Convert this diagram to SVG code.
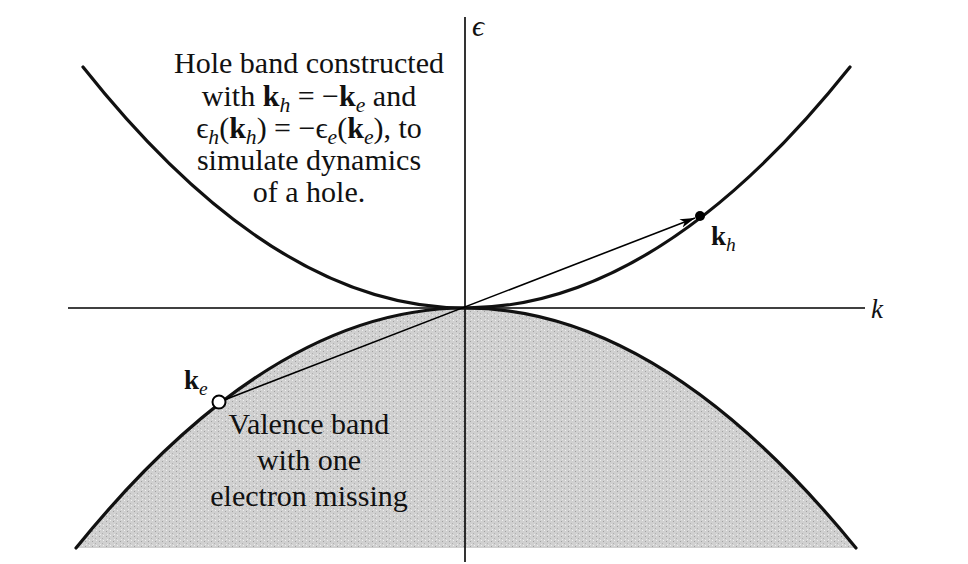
<svg xmlns="http://www.w3.org/2000/svg" width="968" height="564" viewBox="0 0 968 564">
<style>
.axis{stroke:#000;stroke-width:1.6;fill:none}
.band{stroke:#111;stroke-width:3.2;fill:none;stroke-linecap:round}
.txt{font-family:"Liberation Serif","Times New Roman",serif;fill:#111;text-anchor:middle}
.lbl{font-family:"Liberation Serif","Times New Roman",serif;fill:#111}
.b{font-weight:bold}
.s{font-style:italic;font-size:0.72em}
</style>
<defs>
<pattern id="stip" width="7" height="5" patternUnits="userSpaceOnUse">
<rect width="7" height="5" fill="#d0d0d0"/>
<rect x="1" y="1" width="1" height="1" fill="#a0a0a0"/>
<rect x="4" y="3" width="1" height="1" fill="#b0b0b0"/>
<rect x="5" y="0" width="1" height="1" fill="#efefef"/>
<rect x="2" y="4" width="1" height="1" fill="#ececec"/>
</pattern>
<marker id="ah" markerWidth="16" markerHeight="10" refX="15" refY="5" orient="auto" markerUnits="userSpaceOnUse">
<path d="M0,0.5 L15,5 L0,9.5 L4,5 Z" fill="#000"/>
</marker>
</defs>
<rect width="968" height="564" fill="#fff"/>
<g id="valence-band">
<path d="M76,548 Q270.5,308 465,308 Q660.5,308 856,548 Z" fill="url(#stip)" stroke="none"/>
</g>
<g id="axes">
<line class="axis" x1="465" y1="17" x2="465" y2="562"/>
<line class="axis" x1="68" y1="308" x2="865" y2="308"/>
<text class="lbl" x="472" y="36" font-size="30" font-style="italic">ϵ</text>
<text class="lbl" x="871" y="318" font-size="27" font-style="italic">k</text>
</g>
<g id="curves">
<path class="band" d="M83,67 Q274,308 465,308 Q657.5,308 850,67"/>
<path class="band" d="M76,548 Q270.5,308 465,308 Q660.5,308 856,548"/>
</g>
<g id="connectors">
<line x1="219" y1="402" x2="695" y2="218" stroke="#000" stroke-width="1.6" marker-end="url(#ah)"/>
</g>
<g id="kh-point">
<circle cx="700" cy="216" r="5" fill="#000"/>
<text class="lbl" x="711" y="245" font-size="27"><tspan class="b">k</tspan><tspan class="s" baseline-shift="-6">h</tspan></text>
</g>
<g id="ke-point">
<circle cx="219" cy="402" r="6.5" fill="#fff" stroke="#000" stroke-width="2"/>
<text class="lbl" x="184" y="389" font-size="27"><tspan class="b">k</tspan><tspan class="s" baseline-shift="-6">e</tspan></text>
</g>
<g id="hole-note" class="txt" font-size="30">
<text x="309" y="73">Hole band constructed</text>
<text x="309" y="106">with <tspan class="b">k</tspan><tspan class="s" baseline-shift="-6">h</tspan> = −<tspan class="b">k</tspan><tspan class="s" baseline-shift="-6">e</tspan> and</text>
<text x="309" y="138">ϵ<tspan class="s" baseline-shift="-6">h</tspan>(<tspan class="b">k</tspan><tspan class="s" baseline-shift="-6">h</tspan>) = −ϵ<tspan class="s" baseline-shift="-6">e</tspan>(<tspan class="b">k</tspan><tspan class="s" baseline-shift="-6">e</tspan>), to</text>
<text x="309" y="170">simulate dynamics</text>
<text x="309" y="202">of a hole.</text>
</g>
<g id="valence-note" class="txt" font-size="30">
<text x="309" y="434">Valence band</text>
<text x="309" y="470">with one</text>
<text x="309" y="506">electron missing</text>
</g>
</svg>
